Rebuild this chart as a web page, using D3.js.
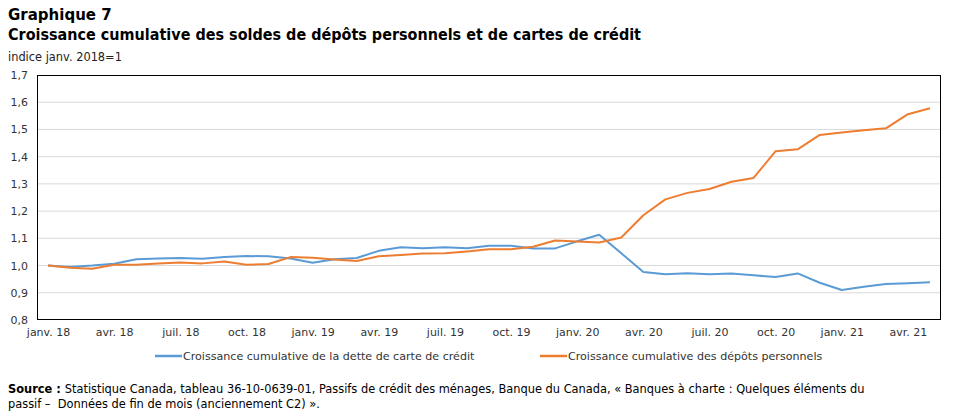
<!DOCTYPE html>
<html><head><meta charset="utf-8">
<script src="https://cdn.jsdelivr.net/npm/d3@7"></script>
<style>
body{margin:0;background:#fff;}
svg{display:block;font-family:"DejaVu Sans",Verdana,sans-serif;}
</style></head>
<body><svg id="c" width="953" height="416"></svg>
<script>
const months = ["janv.","févr.","mars","avr.","mai","juin","juil.","août","sept.","oct.","nov.","déc."];
const categories = [];
for (let y = 18; y <= 21; y++) for (let m = 0; m < 12; m++) { if (y === 21 && m > 4) break; categories.push(months[m] + " " + y); }
const tickLabels = categories.filter((d, i) => i % 3 === 0);
const yTicks = [0.8,0.9,1.0,1.1,1.2,1.3,1.4,1.5,1.6,1.7];

const creditCard = [1.000,0.995,1.000,1.007,1.023,1.026,1.028,1.025,1.031,1.035,1.034,1.026,
  1.010,1.023,1.028,1.054,1.067,1.064,1.067,1.064,1.073,1.073,1.063,1.063,
  1.089,1.113,1.045,0.976,0.968,0.972,0.968,0.971,0.964,0.958,0.971,0.937,
  0.910,0.922,0.932,0.935,0.939];
const deposits = [1.000,0.992,0.988,1.003,1.003,1.008,1.011,1.008,1.015,1.003,1.006,1.031,
  1.029,1.022,1.017,1.034,1.039,1.044,1.045,1.052,1.060,1.060,1.069,1.092,
  1.088,1.085,1.103,1.185,1.243,1.267,1.281,1.308,1.322,1.420,1.427,1.480,
  1.489,1.497,1.504,1.556,1.578];
const seriesNames = ["Croissance cumulative de la dette de carte de crédit","Croissance cumulative des dépôts personnels"];
const colors = ["#5B9BD5","#ED7D31"];

const svg = d3.select("#c");
const L = 37, R = 941, T = 75, B = 320;
const x = d3.scalePoint().domain(categories).range([L, R]).padding(0.5);
const y = d3.scaleLinear().domain([0.8, 1.7]).range([B, T]);

// titles
svg.append("text").attr("x", 8).attr("y", 20).attr("font-size", 15).attr("font-weight", "bold").attr("fill", "#000").text("Graphique 7");
svg.append("text").attr("x", 8).attr("y", 40).attr("font-size", 15).attr("font-weight", "bold").attr("fill", "#000")
  .attr("textLength", 633).attr("lengthAdjust", "spacingAndGlyphs")
  .text("Croissance cumulative des soldes de dépôts personnels et de cartes de crédit");
svg.append("text").attr("x", 8).attr("y", 61).attr("font-size", 11.4).attr("fill", "#222").text("indice janv. 2018=1");

// gridlines
svg.append("g").selectAll("line").data(yTicks.slice(1, -1)).join("line")
  .attr("x1", L).attr("x2", R).attr("y1", d => y(d)).attr("y2", d => y(d))
  .attr("stroke", "#d9d9d9").attr("stroke-width", 1);

// y axis
const ya = svg.append("g").attr("transform", `translate(${L},0)`)
  .call(d3.axisLeft(y).tickValues(yTicks).tickSize(0).tickPadding(9).tickFormat(d => d3.format(".1f")(d).replace(".", ",")));
ya.select(".domain").remove();
ya.selectAll("text").attr("font-size", 11).attr("fill", "#333").attr("font-family", "DejaVu Sans, Verdana, sans-serif");

// x axis
const xa = svg.append("g").attr("transform", `translate(0,${B})`)
  .call(d3.axisBottom(x).tickValues(tickLabels).tickSize(0).tickPadding(8));
xa.select(".domain").remove();
xa.selectAll("text").attr("font-size", 11).attr("fill", "#333").attr("font-family", "DejaVu Sans, Verdana, sans-serif");

// frame
svg.append("rect").attr("x", L + 0.5).attr("y", T + 0.5).attr("width", R - L - 1).attr("height", B - T - 1)
  .attr("fill", "none").attr("stroke", "#000").attr("stroke-width", 1);

// lines
const line = d3.line().x((d, i) => x(categories[i])).y(d => y(d));
[creditCard, deposits].forEach((s, k) => {
  svg.append("path").datum(s).attr("d", line).attr("fill", "none")
    .attr("stroke", colors[k]).attr("stroke-width", 2).attr("stroke-linejoin", "round");
});

// legend
const legX = [155, 540];
seriesNames.forEach((n, k) => {
  svg.append("line").attr("x1", legX[k]).attr("x2", legX[k] + 27).attr("y1", 356).attr("y2", 356)
    .attr("stroke", colors[k]).attr("stroke-width", 2.5);
  svg.append("text").attr("x", legX[k] + 28).attr("y", 360).attr("font-size", 11.1).attr("fill", "#333").text(n);
});

// source
const src = svg.append("text").attr("x", 8).attr("y", 393).attr("font-size", 11.4).attr("fill", "#000");
src.append("tspan").attr("font-weight", "bold").text("Source : ");
src.append("tspan").text("Statistique Canada, tableau 36-10-0639-01, Passifs de crédit des ménages, Banque du Canada, « Banques à charte : Quelques éléments du");
svg.append("text").attr("x", 8).attr("y", 408).attr("font-size", 11.4).attr("fill", "#000")
  .text("passif –  Données de fin de mois (anciennement C2) ».").attr("xml:space", "preserve").style("white-space", "pre");
</script></body></html>
